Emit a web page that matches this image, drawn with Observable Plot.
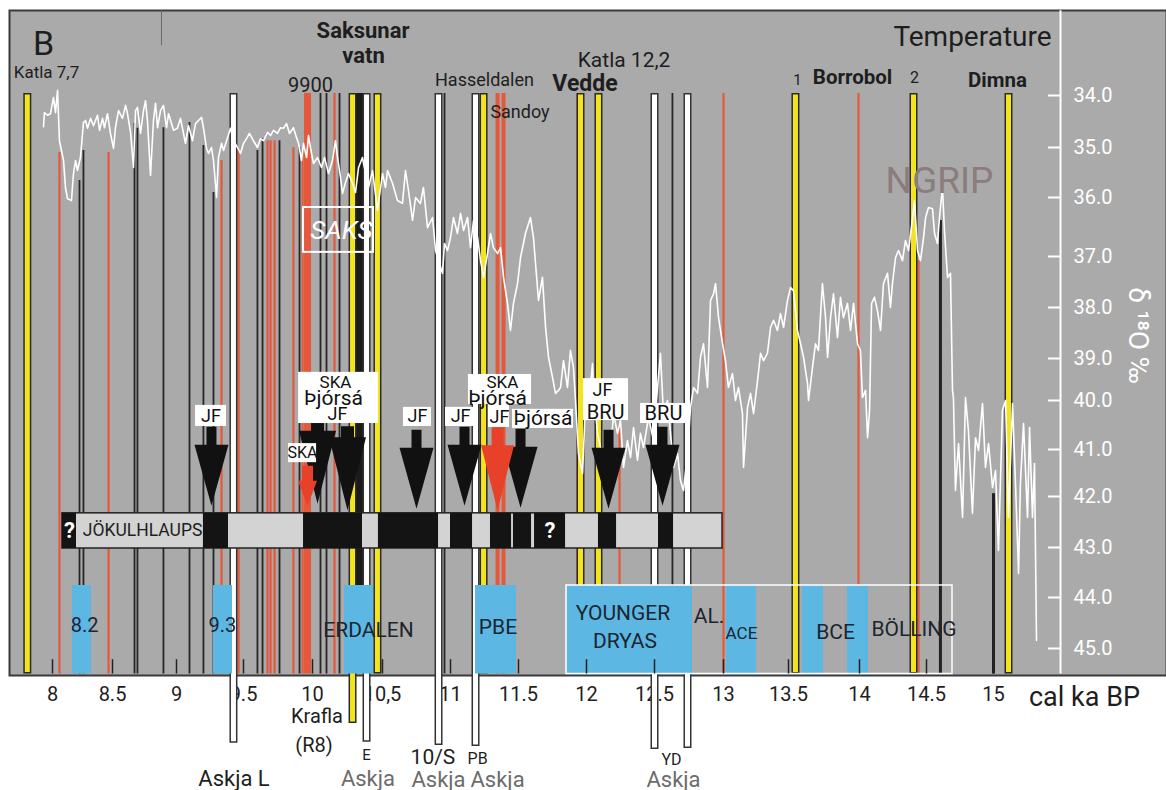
<!DOCTYPE html>
<html>
<head>
<meta charset="utf-8">
<script src="https://cdn.jsdelivr.net/npm/d3@7"></script>
<script src="https://cdn.jsdelivr.net/npm/@observablehq/plot@0.6"></script>
<style>
  html, body { margin: 0; padding: 0; background: #fff; }
</style>
</head>
<body>
<div id="chart"></div>
<script>
// ---------------- data ----------------
// Age axis (cal ka BP) and NGRIP δ18O axis (‰, negative values shown unsigned)
const ageTicks = [8, 8.5, 9, 9.5, 10, 10.5, 11, 11.5, 12, 12.5, 13, 13.5, 14, 14.5, 15];
const ageTickLabels = ["8", "8.5", "9", "9.5", "10", "10,5", "11", "11.5", "12", "12.5", "13", "13.5", "14", "14.5", "15"];
const d18Ticks = [34, 35, 36, 37, 38, 39, 40, 41, 42, 43, 44, 45];
const d18TickLabels = ["34.0", "35.0", "36.0", "37.0", "38.0", "39.0", "40.0", "41.0", "42.0", "43.0", "44.0", "45.0"];

// NGRIP δ18O record
const ngripAge = [
  7.925, 7.933, 7.958, 7.983, 8.008, 8.025, 8.042, 8.058, 8.092, 8.108, 8.125, 8.158, 8.175, 8.192, 8.208, 8.233,
  8.258, 8.275, 8.292, 8.317, 8.342, 8.375, 8.392, 8.417, 8.433, 8.458, 8.483, 8.508, 8.523, 8.547, 8.578, 8.602,
  8.617, 8.641, 8.664, 8.680, 8.695, 8.719, 8.742, 8.758, 8.773, 8.797, 8.820, 8.836, 8.852, 8.875, 8.898, 8.922,
  8.938, 8.961, 8.977, 9.007, 9.030, 9.052, 9.067, 9.090, 9.119, 9.142, 9.164, 9.187, 9.201, 9.224, 9.239, 9.261,
  9.276, 9.299, 9.313, 9.336, 9.351, 9.381, 9.403, 9.425, 9.455, 9.478, 9.500, 9.522, 9.543, 9.572, 9.601, 9.623,
  9.645, 9.674, 9.696, 9.717, 9.746, 9.768, 9.790, 9.812, 9.833, 9.862, 9.884, 9.899, 9.920, 9.935, 9.957, 9.971,
  9.993, 10.007, 10.036, 10.064, 10.086, 10.114, 10.143, 10.164, 10.179, 10.200, 10.214, 10.236, 10.257, 10.286, 10.307, 10.329,
  10.357, 10.379, 10.400, 10.429, 10.464, 10.500, 10.522, 10.537, 10.574, 10.610, 10.647, 10.669, 10.691, 10.721, 10.743, 10.779,
  10.801, 10.831, 10.868, 10.890, 10.912, 10.941, 10.956, 10.978, 11.000, 11.022, 11.051, 11.074, 11.096, 11.125, 11.147, 11.169,
  11.199, 11.221, 11.243, 11.272, 11.294, 11.316, 11.346, 11.368, 11.390, 11.419, 11.441, 11.463, 11.493, 11.515, 11.551, 11.588,
  11.610, 11.647, 11.676, 11.699, 11.721, 11.750, 11.772, 11.794, 11.809, 11.831, 11.860, 11.882, 11.904, 11.919, 11.941, 11.971,
  11.993, 12.015, 12.044, 12.051, 12.081, 12.103, 12.125, 12.154, 12.176, 12.199, 12.228, 12.250, 12.272, 12.301, 12.324, 12.346,
  12.375, 12.397, 12.419, 12.456, 12.493, 12.522, 12.543, 12.565, 12.594, 12.616, 12.638, 12.667, 12.688, 12.710, 12.739, 12.761,
  12.783, 12.812, 12.833, 12.855, 12.884, 12.906, 12.928, 12.942, 12.964, 12.993, 13.015, 13.038, 13.069, 13.092, 13.115, 13.146,
  13.154, 13.185, 13.208, 13.231, 13.262, 13.285, 13.308, 13.338, 13.362, 13.385, 13.415, 13.438, 13.462, 13.492, 13.514, 13.535,
  13.563, 13.585, 13.606, 13.634, 13.641, 13.669, 13.690, 13.711, 13.739, 13.761, 13.775, 13.796, 13.817, 13.845, 13.866, 13.887,
  13.915, 13.937, 13.958, 13.986, 14.007, 14.022, 14.045, 14.060, 14.075, 14.090, 14.112, 14.134, 14.157, 14.179, 14.209, 14.231,
  14.246, 14.269, 14.291, 14.321, 14.343, 14.366, 14.396, 14.410, 14.433, 14.455, 14.478, 14.493, 14.515, 14.545, 14.560, 14.582,
  14.597, 14.619, 14.634, 14.657, 14.679, 14.694, 14.701, 14.716, 14.739, 14.769, 14.791, 14.813, 14.843, 14.866, 14.888, 14.918,
  14.940, 14.963, 14.993, 15.015, 15.037, 15.067, 15.090, 15.112, 15.142, 15.164, 15.187, 15.201, 15.224, 15.254, 15.269, 15.291,
  15.306, 15.321
];
const ngripD18 = [
  34.60, 34.33, 34.38, 34.35, 34.04, 34.33, 33.90, 34.87, 35.26, 35.80, 36.02, 36.05, 35.52, 35.26, 35.46, 35.20,
  34.52, 34.48, 34.63, 34.44, 34.58, 34.38, 34.67, 34.44, 34.62, 34.35, 34.73, 35.02, 34.62, 34.29, 34.44, 34.19,
  34.35, 34.71, 35.40, 34.29, 34.23, 34.73, 34.29, 34.10, 34.48, 35.56, 34.48, 34.15, 34.62, 34.29, 34.19, 34.62,
  34.35, 34.54, 34.67, 34.63, 34.44, 34.73, 34.92, 34.58, 34.87, 34.54, 34.48, 34.42, 34.62, 35.02, 35.12, 35.00,
  35.26, 36.00, 35.20, 34.92, 35.06, 34.81, 34.63, 34.87, 35.00, 35.12, 34.92, 34.83, 34.73, 34.87, 35.00, 34.83,
  34.87, 34.71, 34.77, 34.67, 34.73, 34.62, 34.63, 34.54, 34.73, 34.62, 34.81, 34.92, 35.26, 34.92, 35.20, 34.77,
  35.12, 35.32, 35.20, 35.40, 35.20, 35.52, 35.26, 34.87, 35.20, 35.60, 35.92, 35.70, 35.52, 35.72, 35.90, 35.40,
  35.20, 35.52, 35.80, 35.46, 36.22, 35.52, 35.80, 35.46, 35.72, 36.05, 36.10, 35.46, 35.86, 36.39, 36.00, 36.10,
  35.80, 36.51, 36.34, 36.90, 37.08, 37.33, 36.78, 36.90, 36.68, 36.34, 36.61, 36.27, 36.56, 36.34, 36.85, 36.39,
  36.68, 37.08, 37.41, 36.95, 36.61, 36.85, 36.95, 36.85, 37.41, 37.92, 38.45, 37.92, 37.53, 37.02, 36.61, 36.34,
  36.68, 37.86, 37.41, 38.39, 38.98, 39.45, 39.83, 39.76, 39.69, 39.05, 39.69, 38.84, 39.21, 40.00, 41.09, 41.51,
  40.00, 40.14, 39.12, 39.69, 40.67, 40.96, 41.51, 40.67, 41.09, 40.27, 40.67, 40.41, 41.38, 40.82, 41.17, 40.55,
  41.23, 40.67, 40.96, 40.35, 40.82, 39.69, 38.90, 40.27, 40.00, 40.67, 41.38, 41.09, 41.66, 41.87, 41.09, 40.14,
  39.69, 39.83, 38.98, 38.71, 39.69, 37.86, 37.73, 37.53, 38.20, 38.71, 39.05, 39.69, 39.36, 40.00, 39.69, 40.27,
  41.38, 40.14, 39.83, 40.27, 39.52, 38.90, 39.05, 38.90, 38.39, 38.25, 38.45, 38.12, 38.39, 37.86, 37.61, 37.67,
  38.45, 38.71, 38.98, 39.60, 40.00, 39.21, 38.71, 38.84, 37.53, 38.20, 38.98, 38.20, 37.73, 38.59, 37.80, 38.20,
  37.92, 38.45, 37.92, 38.71, 38.84, 39.93, 39.76, 40.76, 40.20, 37.92, 37.80, 38.06, 38.45, 37.53, 37.33, 38.00,
  37.53, 37.02, 36.90, 37.08, 36.73, 36.90, 36.34, 36.05, 36.90, 37.08, 36.68, 36.34, 36.17, 36.19, 36.61, 36.78,
  36.34, 35.80, 36.56, 37.41, 37.33, 39.76, 39.93, 41.87, 40.88, 42.41, 39.93, 40.61, 42.33, 40.76, 41.02, 40.06,
  41.38, 40.88, 41.81, 41.45, 43.06, 40.20, 40.00, 42.41, 40.06, 41.72, 43.52, 41.72, 40.47, 42.41, 40.55, 42.41,
  41.30, 44.84
];

// Tephra layers: yellow (Katla / Saksunarvatn / Vedde / Borrobol etc.), white (Askja)
const yellowAge  = [7.79, 10.286, 10.464, 11.243, 11.956, 12.088, 13.549, 14.403, 15.112];
const yellowBase = [45.5, 46.47, 45.5, 45.5, 45.5, 45.5, 45.5, 45.5, 45.5];
const whiteAge   = [9.425, 10.386, 10.912, 11.184, 12.5, 12.739];
const whiteBase  = [46.86, 46.84, 46.90, 46.92, 46.98, 46.96];

// Other tephra horizons (top of each line on the δ18O scale)
const blackAge = [8.225, 8.258, 8.672, 8.695, 8.898, 9.097, 9.201, 9.276, 9.601, 9.638, 9.761, 9.906, 10.057, 10.100, 10.193, 10.956, 12.63];
const blackTop = [35.66, 35.06, 34.54, 34.63, 34.62, 34.52, 34.96, 35.90, 35.06, 34.83, 34.87, 35.00, 33.96, 33.96, 33.96, 33.96, 33.96];
const redAge = [8.058, 8.467, 9.336, 9.463, 9.674, 9.696, 9.725, 9.862, 9.928, 10.157, 11.934, 12.243, 13.0, 13.993, 14.44];
const redTop = [35.10, 35.10, 35.26, 35.06, 34.87, 34.87, 34.87, 35.00, 35.06, 33.96, 33.96, 40.51, 33.96, 33.96, 37.08];
const redWideAge = [9.964, 11.346, 11.39];
const heavyBlackAge = [10.336];
const darkAge = [14.604, 15.0];
const darkTop = [36.39, 41.94];

// Jökulhlaup record: extent and dark (event) intervals
const jokStart = 8.083, jokEnd = 12.993;
const jokEventStart = [8.083, 9.201, 9.935, 10.471, 11.0, 11.294, 11.463, 11.618, 12.088, 12.529];
const jokEventEnd   = [8.2, 9.388, 10.357, 10.912, 11.162, 11.449, 11.596, 11.846, 12.221, 12.638];

// Cold events / periods (blue)
const coldStart = [8.167, 9.276, 10.229, 11.184, 11.860, 13.023, 13.599, 13.915];
const coldEnd   = [8.325, 9.418, 10.436, 11.485, 12.775, 13.254, 13.746, 14.067];

// ---------------- layout ----------------
const topD18 = 33.96;   // upper end of the tephra lines
const baseD18 = 45.5;   // lower edge of the panel
const tickLabelD18 = 45.9;
// the printed axes are not quite uniform: map each tick to where it sits
const xPx = [52, 112, 176, 243, 312, 382, 450, 518, 586, 654, 723, 788, 859, 926, 993];
const yPx = [95, 147, 197, 256, 307, 358, 400, 449, 496, 547, 597, 648];
const agePos = d3.scaleLinear().domain(ageTicks).range(xPx);
const d18Pos = d3.scaleLinear().domain(d18Ticks).range(yPx);

const INK = "#1e1e1e", RED = "#e4583b", YELLOW = "#f2e41e", BLUE = "#5cb7e2", GREY_TXT = "#6c6c6c";

const rows = (cols) => cols[Object.keys(cols)[0]].map((_, i) => Object.fromEntries(Object.entries(cols).map(([k, v]) => [k, v[i]])));

const ngrip = rows({age: ngripAge, d18: ngripD18});
const yellow = rows({age: yellowAge, base: yellowBase});
const white = rows({age: whiteAge, base: whiteBase});
const black = rows({age: blackAge, top: blackTop});
const red = rows({age: redAge, top: redTop});
const dark = rows({age: darkAge, top: darkTop});
const jokEvents = rows({x1: jokEventStart, x2: jokEventEnd});
const cold = rows({x1: coldStart, x2: coldEnd});
const xTickRows = rows({age: ageTicks, label: ageTickLabels});
const yTickRows = rows({d18: d18Ticks, label: d18TickLabels});

// arrow glyph: tip at the anchor point, head and shaft above it
function arrowSymbol(headLen, headHalf, shaftHalf, shaftLen) {
  return {
    draw(ctx) {
      ctx.moveTo(0, 0);
      ctx.lineTo(-headHalf, -headLen);
      ctx.lineTo(-shaftHalf, -headLen);
      ctx.lineTo(-shaftHalf, -headLen - shaftLen);
      ctx.lineTo(shaftHalf, -headLen - shaftLen);
      ctx.lineTo(shaftHalf, -headLen);
      ctx.lineTo(headHalf, -headLen);
      ctx.closePath();
    }
  };
}
const arrowStd = arrowSymbol(61, 17, 5, 18);
const arrowLarge = arrowSymbol(73, 18.5, 6.5, 11);
const arrowRedBig = arrowSymbol(65, 16.5, 6, 18);
const arrowRedSmall = arrowSymbol(25, 9.5, 5.5, 15);

const blackArrows = [
  {age: 9.261, d18: 42.18}, {age: 10.75, d18: 42.24}, {age: 11.103, d18: 42.18},
  {age: 11.515, d18: 42.22}, {age: 12.162, d18: 42.24}, {age: 12.558, d18: 42.18}
];
const largeArrows = [{age: 10.036, d18: 42.14}, {age: 10.25, d18: 42.27}];
const redBigArrows = [{age: 11.346, d18: 42.27}];
const redSmallArrows = [{age: 9.964, d18: 42.18}];

const labelBoxes = [
  {x1: 9.142, x2: 9.373, y1: 40.10, y2: 40.53},
  {x1: 9.899, x2: 10.471, y1: 39.33, y2: 40.47},
  {x1: 9.826, x2: 10.029, y1: 40.88, y2: 41.28},
  {x1: 10.654, x2: 10.860, y1: 40.14, y2: 40.53},
  {x1: 10.963, x2: 11.184, y1: 40.14, y2: 40.53},
  {x1: 11.132, x2: 11.596, y1: 39.38, y2: 40.08},
  {x1: 11.279, x2: 11.434, y1: 40.08, y2: 40.55},
  {x1: 11.456, x2: 11.904, y1: 40.18, y2: 40.57},
  {x1: 11.978, x2: 12.309, y1: 39.48, y2: 40.41},
  {x1: 12.397, x2: 12.739, y1: 40.06, y2: 40.47}
];
const boxLabels = [
  {t: "JF", age: 9.257, d18: 40.32, s: 18},
  {t: "SKA", age: 10.164, d18: 39.57, s: 17},
  {t: "Þjórsá", age: 10.15, d18: 39.95, s: 21},
  {t: "JF", age: 10.179, d18: 40.29, s: 18},
  {t: "SKA", age: 9.928, d18: 41.07, s: 16},
  {t: "JF", age: 10.757, d18: 40.33, s: 18},
  {t: "JF", age: 11.074, d18: 40.33, s: 18},
  {t: "SKA", age: 11.382, d18: 39.57, s: 17},
  {t: "Þjórsá", age: 11.346, d18: 39.95, s: 21},
  {t: "JF", age: 11.36, d18: 40.35, s: 18},
  {t: "Þjórsá", age: 11.68, d18: 40.37, s: 21},
  {t: "JF", age: 12.118, d18: 39.76, s: 18},
  {t: "BRU", age: 12.14, d18: 40.24, s: 20},
  {t: "BRU", age: 12.565, d18: 40.27, s: 20}
];

const topLabels = [
  {t: "B", age: 7.925, d18: 33.01, s: 34},
  {t: "Katla 7,7", age: 7.95, d18: 33.56, s: 17},
  {t: "9900", age: 9.986, d18: 33.81, s: 20},
  {t: "Hasseldalen", age: 11.25, d18: 33.71, s: 18},
  {t: "Sandoy", age: 11.511, d18: 34.33, s: 18},
  {t: "Katla 12,2", age: 12.276, d18: 33.33, s: 21},
  {t: "1", age: 13.563, d18: 33.71, s: 15},
  {t: "2", age: 14.41, d18: 33.67, s: 16},
  {t: "Temperature", age: 14.843, d18: 32.88, s: 28}
];
const boldLabels = [
  {t: "Saksunar", age: 10.361, d18: 32.75, s: 22},
  {t: "vatn", age: 10.364, d18: 33.23, s: 22},
  {t: "Vedde", age: 11.989, d18: 33.77, s: 23},
  {t: "Borrobol", age: 13.951, d18: 33.65, s: 20.5},
  {t: "Dimna", age: 15.03, d18: 33.71, s: 20.5}
];
const coldLabels = [
  {t: "8.2", age: 8.267, d18: 44.55, s: 20},
  {t: "9.3", age: 9.343, d18: 44.55, s: 20},
  {t: "ERDALEN", age: 10.40, d18: 44.65, s: 21},
  {t: "PBE", age: 11.349, d18: 44.59, s: 21},
  {t: "YOUNGER", age: 12.268, d18: 44.31, s: 21},
  {t: "DRYAS", age: 12.283, d18: 44.86, s: 21},
  {t: "AL.", age: 12.895, d18: 44.37, s: 21},
  {t: "ACE", age: 13.138, d18: 44.71, s: 17},
  {t: "BCE", age: 13.831, d18: 44.69, s: 21},
  {t: "BÖLLING", age: 14.407, d18: 44.63, s: 21}
];
const belowLabels = [
  {t: "Krafla", age: 10.032, d18: 46.33, s: 20, c: INK},
  {t: "(R8)", age: 10.011, d18: 46.90, s: 20, c: INK},
  {t: "E", age: 10.386, d18: 47.10, s: 15, c: INK},
  {t: "Askja", age: 10.396, d18: 47.55, s: 22, c: GREY_TXT},
  {t: "Askja L", age: 9.429, d18: 47.55, s: 22, c: INK},
  {t: "10/S", age: 10.871, d18: 47.14, s: 21, c: INK},
  {t: "Askja", age: 10.912, d18: 47.57, s: 22, c: GREY_TXT},
  {t: "PB", age: 11.199, d18: 47.16, s: 16, c: INK},
  {t: "Askja", age: 11.346, d18: 47.57, s: 22, c: GREY_TXT},
  {t: "YD", age: 12.623, d18: 47.18, s: 16, c: INK},
  {t: "Askja", age: 12.638, d18: 47.57, s: 22, c: GREY_TXT},
  {t: "cal ka BP", age: 15.679, d18: 45.96, s: 27, c: INK}
];

const chart = Plot.plot({
  width: 1166,
  height: 790,
  marginTop: 10,
  marginLeft: 9,
  marginRight: 0,
  marginBottom: 115,
  x: {transform: (v) => agePos(v), domain: [0, 1166], range: [0, 1166], axis: null},
  y: {transform: (v) => d18Pos(v), domain: [0, 790], range: [0, 790], axis: null},
  style: {fontFamily: "Roboto, 'Open Sans', sans-serif", background: "#fff", overflow: "visible"},
  marks: [
    Plot.frame({fill: "#aaaaaa"}),
    Plot.frame({stroke: "#3a3a3a", strokeWidth: 2}),
    // age axis labels (drawn early so the Askja bars run over them)
    Plot.text(xTickRows, {x: "age", y: tickLabelD18, text: "label", fontSize: 20, fill: INK}),
    // small vertical guide at the top edge
    Plot.ruleX([8.883], {y1: 32.37, y2: 33.04, stroke: "#6a6a6a", strokeWidth: 1}),
    // tephra horizons
    Plot.ruleX(red, {x: "age", y1: "top", y2: baseD18, stroke: RED, strokeWidth: 2.2}),
    Plot.ruleX(black, {x: "age", y1: "top", y2: baseD18, stroke: "#262626", strokeWidth: 1.8}),
    Plot.ruleX(dark, {x: "age", y1: "top", y2: baseD18, stroke: "#222", strokeWidth: 3}),
    Plot.ruleX(redWideAge.slice(0, 1), {x: (d) => d, y1: topD18, y2: baseD18, stroke: RED, strokeWidth: 7}),
    Plot.ruleX(redWideAge.slice(1), {x: (d) => d, y1: topD18, y2: baseD18, stroke: RED, strokeWidth: 4}),
    Plot.ruleX(heavyBlackAge, {x: (d) => d, y1: topD18, y2: 43.76, stroke: "#1b1b1b", strokeWidth: 8}),
    Plot.ruleX(yellow, {x: "age", y1: topD18, y2: "base", stroke: "#2a2a2a", strokeWidth: 8}),
    Plot.ruleX(yellow, {x: "age", y1: topD18, y2: "base", stroke: YELLOW, strokeWidth: 5, insetTop: 1.5, insetBottom: 1.5}),
    Plot.ruleX(white, {x: "age", y1: topD18, y2: "base", stroke: "#333", strokeWidth: 8}),
    Plot.ruleX(white, {x: "age", y1: topD18, y2: "base", stroke: "#fff", strokeWidth: 5, insetTop: 1.5, insetBottom: 1.5}),
    // NGRIP curve
    Plot.line(ngrip, {x: "age", y: "d18", stroke: "#fff", strokeWidth: 1.6, strokeLinejoin: "round"}),
    // jökulhlaup bar
    Plot.rect([{x1: jokStart, x2: jokEnd}], {x1: "x1", x2: "x2", y1: 42.33, y2: 43.02, fill: "#d3d3d3", stroke: "#222", strokeWidth: 1.5}),
    Plot.rect(jokEvents, {x1: "x1", x2: "x2", y1: 42.33, y2: 43.02, fill: "#141414"}),
    Plot.text(["JÖKULHLAUPS"], {x: 8.735, y: 42.67, fontSize: 17.5, fill: INK}),
    Plot.text(["?", "?"], {x: (d, i) => (i === 0 ? 8.142 : 11.732), y: 42.67, fontSize: 22, fontWeight: "bold", fill: "#fff"}),
    // cold events
    Plot.rect(cold, {x1: "x1", x2: "x2", y1: 43.76, y2: baseD18, fill: BLUE}),
    Plot.rect([{x1: 11.853, x2: 14.694}], {x1: "x1", x2: "x2", y1: 43.76, y2: baseD18, fill: "none", stroke: "#fff", strokeWidth: 1.5}),
    Plot.text(coldLabels, {x: "age", y: "d18", text: "t", fontSize: "s", fill: "#1c2530"}),
    // axis ticks inside the panel
    Plot.ruleX(ageTicks, {x: (d) => d, y1: 45.22, y2: baseD18, stroke: "#222", strokeWidth: 1.5}),
    // tephra labels with arrows
    Plot.dot(blackArrows, {x: "age", y: "d18", r: 5, symbol: arrowStd, fill: "#111", stroke: "none"}),
    Plot.dot(largeArrows, {x: "age", y: "d18", r: 5, symbol: arrowLarge, fill: "#111", stroke: "none"}),
    Plot.rect(labelBoxes, {x1: "x1", x2: "x2", y1: "y1", y2: "y2", fill: "#fff"}),
    Plot.dot(redBigArrows, {x: "age", y: "d18", r: 5, symbol: arrowRedBig, fill: "#e8412a", stroke: "none"}),
    Plot.dot(redSmallArrows, {x: "age", y: "d18", r: 5, symbol: arrowRedSmall, fill: "#e8412a", stroke: "none"}),
    Plot.text(boxLabels, {x: "age", y: "d18", text: "t", fontSize: "s", fill: "#111"}),
    // SAKS marker
    Plot.rect([{x1: 9.935, x2: 10.436}], {x1: "x1", x2: "x2", y1: 36.17, y2: 36.93, fill: "none", stroke: "#fff", strokeWidth: 2}),
    Plot.text(["SAKS"], {x: 10.207, y: 36.56, fontSize: 26, fontStyle: "italic", fill: "#fff"}),
    // top annotations
    Plot.text(topLabels, {x: "age", y: "d18", text: "t", fontSize: "s", fill: INK}),
    Plot.text(boldLabels, {x: "age", y: "d18", text: "t", fontSize: "s", fontWeight: "bold", fill: INK}),
    Plot.text(["NGRIP"], {x: 14.597, y: 35.68, fontSize: 37, fill: "#8b7d7d"}),
    // labels below the axis
    Plot.text(belowLabels, {x: "age", y: "d18", text: "t", fontSize: "s", fill: "c"}),
    // right-hand δ18O axis
    Plot.ruleX([15.5], {y1: 32.37, y2: baseD18, stroke: "#fff", strokeWidth: 2}),
    Plot.ruleY(d18Ticks, {y: (d) => d, x1: 15.41, x2: 15.5, stroke: "#fff", strokeWidth: 2}),
    Plot.text(yTickRows, {x: 15.597, y: "d18", text: "label", textAnchor: "start", fontSize: 20, fill: "#fff"}),
    Plot.text(["δ ¹⁸O ‰"], {x: 16.075, y: 38.55, rotate: 90, fontSize: 28, fill: "#fff"})
  ]
});
document.getElementById("chart").append(chart);
</script>
</body>
</html>
